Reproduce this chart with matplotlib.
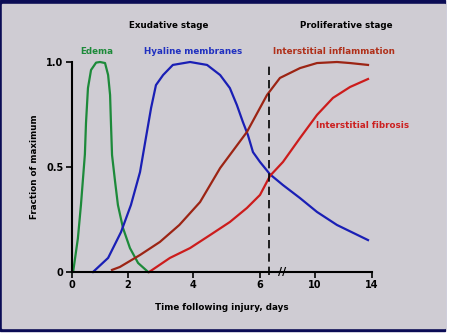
#!/usr/bin/env python3
"""Fraction of maximum vs time following injury (exudative / proliferative stages)."""

import numpy as np
import matplotlib
matplotlib.use("Agg")
import matplotlib.pyplot as plt
from matplotlib.patches import Rectangle

# data (days, fraction of maximum)
edema_days = [0, 0.04, 0.21, 0.32, 0.46, 0.5, 0.57, 0.68, 0.86, 1.0, 1.18, 1.29,
              1.36, 1.39, 1.43, 1.54, 1.64, 1.82, 2.06, 2.31, 2.62]
edema_frac = [0, 0.0, 0.16, 0.32, 0.56, 0.71, 0.876, 0.962, 0.997, 1.0, 0.995, 0.938,
              0.843, 0.714, 0.557, 0.429, 0.319, 0.21, 0.114, 0.043, 0]

hyaline_days = [0.75, 1.29, 1.75, 2.09, 2.37, 2.55, 2.71, 2.86, 3.08, 3.38, 3.91, 4.42,
                4.81, 5.10, 5.31, 5.49, 5.64, 5.79, 6.0, 6.73, 7.67, 8.91, 10.14, 11.54, 13.72]
hyaline_frac = [0, 0.067, 0.19, 0.319, 0.476, 0.638, 0.781, 0.89, 0.938, 0.986, 1.0, 0.986,
                0.938, 0.876, 0.795, 0.714, 0.652, 0.571, 0.524, 0.465, 0.414, 0.352,
                0.286, 0.224, 0.152]

inflam_days = [1.43, 1.71, 2.37, 2.98, 3.58, 4.21, 4.81, 5.61, 6.51, 7.45, 8.91,
               10.14, 11.54, 12.46, 13.72]
inflam_frac = [0.01, 0.024, 0.081, 0.143, 0.224, 0.333, 0.495, 0.667, 0.843, 0.924,
               0.971, 0.995, 1.0, 0.995, 0.986]

fibrosis_days = [2.65, 3.29, 3.91, 4.51, 5.10, 5.61, 6.0, 6.73, 7.67, 8.91, 10.14,
                 11.26, 12.46, 13.72]
fibrosis_frac = [0, 0.067, 0.114, 0.176, 0.238, 0.305, 0.367, 0.458, 0.524, 0.638,
                 0.748, 0.829, 0.881, 0.919]

x_ticks = [0, 2, 4, 6, 10, 14]
y_ticks = [0, 0.5, 1.0]
y_ticklabels = ["0", "0.5", "1.0"]
stage_boundary = 6.65
axis_break = 7.6

# broken time axis: days -> drawing position
DAY_KNOTS = [0, 2, 4, 6, 10, 14]
POS_KNOTS = [0, 56, 121, 188, 243, 300]

BG = "#cfccd3"
NAVY = "#0b0c55"


def fwd(x):
    return np.interp(x, DAY_KNOTS, POS_KNOTS)


def inv(p):
    return np.interp(p, POS_KNOTS, DAY_KNOTS)


def main():
    fig = plt.figure(figsize=(4.51, 3.35), dpi=100, facecolor="white")
    W, H = 451.0, 335.0
    fig.patches.append(Rectangle((0, 1 - 331 / H), 445 / W, 331 / H,
                                 transform=fig.transFigure, color=NAVY, zorder=-2))
    fig.patches.append(Rectangle((2 / W, 1 - 328 / H), 443 / W, 324 / H,
                                 transform=fig.transFigure, color=BG, zorder=-1))

    ax = fig.add_axes([72 / W, 1 - 272 / H, 300 / W, 210 / H])
    ax.set_facecolor("none")
    ax.set_xscale("function", functions=(fwd, inv))
    ax.set_xlim(0, 14)
    ax.set_ylim(0, 1.0)

    lw = 1.6
    ax.plot(edema_days, edema_frac, color="#1d8a3a", lw=lw, clip_on=False)
    ax.plot(hyaline_days, hyaline_frac, color="#1a1fb5", lw=lw, clip_on=False)
    ax.plot(inflam_days, inflam_frac, color="#9c2414", lw=lw, clip_on=False)
    ax.plot(fibrosis_days, fibrosis_frac, color="#cc1c1c", lw=lw, clip_on=False)
    ax.plot([stage_boundary, stage_boundary], [-0.015, 1.0], color="black", lw=1.2,
            ls=(0, (5, 3)), clip_on=False)
    ax.text(axis_break, 0, "//", ha="center", va="center", fontsize=8,
            fontweight="bold", color="black")

    for side in ("top", "right"):
        ax.spines[side].set_visible(False)
    for side in ("left", "bottom"):
        ax.spines[side].set_linewidth(1.5)
    ax.set_xticks(x_ticks)
    ax.set_xticks([], minor=True)
    ax.set_xticklabels([str(t) for t in x_ticks])
    ax.set_yticks(y_ticks)
    ax.set_yticklabels(y_ticklabels)
    ax.tick_params(direction="out", length=4, width=1.2, labelsize=7, pad=2)
    for lab in ax.get_xticklabels() + ax.get_yticklabels():
        lab.set_fontweight("bold")

    ax.set_xlabel("Time following injury, days", fontsize=6.3, fontweight="bold", labelpad=9)
    ax.set_ylabel("Fraction of maximum", fontsize=6.3, fontweight="bold", labelpad=5)

    bold = dict(fontsize=6.3, fontweight="bold", ha="center", va="center")
    fig.text(169 / W, 1 - 25 / H, "Exudative stage", color="black", **bold)
    fig.text(346 / W, 1 - 25 / H, "Proliferative stage", color="black", **bold)
    fig.text(97 / W, 1 - 52 / H, "Edema", color="#1d8a3a", **bold)
    fig.text(193 / W, 1 - 52 / H, "Hyaline membranes", color="#2030c0", **bold)
    fig.text(334 / W, 1 - 52 / H, "Interstitial inflammation", color="#b0301a", **bold)
    fig.text(363 / W, 1 - 125 / H, "Interstitial fibrosis", color="#cc2020", **bold)

    fig.savefig("out.png", dpi=100, facecolor=fig.get_facecolor())


if __name__ == "__main__":
    main()
